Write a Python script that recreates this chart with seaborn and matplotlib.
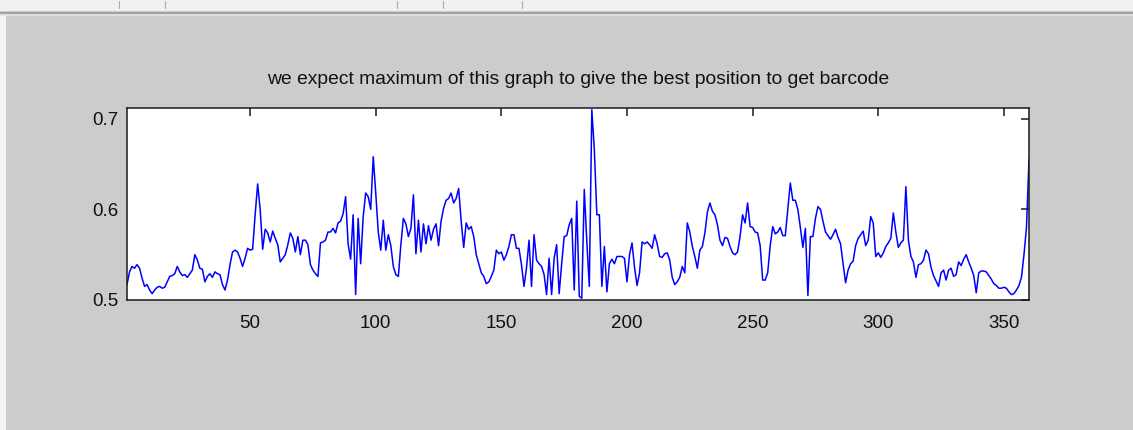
import numpy as np
import pandas as pd
import matplotlib
matplotlib.use("Agg")
import matplotlib.pyplot as plt
from matplotlib.patches import Rectangle
from matplotlib.lines import Line2D
import seaborn as sns

title_text = "we expect maximum of this graph to give the best position to get barcode"
x_ticks = [50, 100, 150, 200, 250, 300, 350]
y_ticks = [0.5, 0.6, 0.7]
y_tick_labels = ["0.5", "0.6", "0.7"]

values_001_060 = [0.517, 0.531, 0.537, 0.535, 0.539, 0.535, 0.524, 0.515, 0.517, 0.511,
                  0.507, 0.511, 0.514, 0.515, 0.513, 0.514, 0.520, 0.526, 0.527, 0.529,
                  0.537, 0.531, 0.527, 0.528, 0.525, 0.529, 0.533, 0.550, 0.544, 0.535,
                  0.534, 0.520, 0.526, 0.529, 0.525, 0.531, 0.529, 0.528, 0.517, 0.511,
                  0.522, 0.539, 0.553, 0.555, 0.553, 0.546, 0.537, 0.546, 0.557, 0.555,
                  0.556, 0.594, 0.628, 0.600, 0.556, 0.578, 0.574, 0.564, 0.576, 0.568]
values_061_120 = [0.561, 0.542, 0.546, 0.550, 0.561, 0.574, 0.568, 0.553, 0.570, 0.550,
                  0.566, 0.566, 0.561, 0.539, 0.533, 0.529, 0.526, 0.563, 0.564, 0.566,
                  0.575, 0.575, 0.579, 0.574, 0.585, 0.587, 0.595, 0.614, 0.562, 0.545,
                  0.594, 0.506, 0.590, 0.540, 0.592, 0.618, 0.614, 0.600, 0.658, 0.618,
                  0.575, 0.555, 0.588, 0.555, 0.572, 0.560, 0.537, 0.528, 0.526, 0.561,
                  0.590, 0.584, 0.570, 0.579, 0.616, 0.551, 0.588, 0.553, 0.584, 0.562]
values_121_180 = [0.582, 0.566, 0.578, 0.584, 0.560, 0.587, 0.601, 0.610, 0.612, 0.618,
                  0.607, 0.612, 0.623, 0.587, 0.558, 0.585, 0.578, 0.581, 0.570, 0.550,
                  0.540, 0.530, 0.526, 0.518, 0.520, 0.526, 0.533, 0.555, 0.551, 0.553,
                  0.544, 0.550, 0.559, 0.572, 0.572, 0.557, 0.557, 0.539, 0.515, 0.535,
                  0.566, 0.515, 0.572, 0.544, 0.540, 0.537, 0.528, 0.506, 0.546, 0.506,
                  0.546, 0.561, 0.507, 0.540, 0.570, 0.571, 0.583, 0.590, 0.511, 0.609]
values_181_240 = [0.504, 0.502, 0.622, 0.565, 0.515, 0.710, 0.666, 0.594, 0.594, 0.515,
                  0.559, 0.509, 0.540, 0.545, 0.540, 0.548, 0.548, 0.548, 0.546, 0.520,
                  0.550, 0.563, 0.536, 0.516, 0.530, 0.564, 0.562, 0.564, 0.561, 0.557,
                  0.572, 0.562, 0.548, 0.547, 0.551, 0.552, 0.544, 0.525, 0.517, 0.520,
                  0.525, 0.537, 0.530, 0.585, 0.575, 0.559, 0.548, 0.535, 0.555, 0.559,
                  0.574, 0.597, 0.607, 0.598, 0.594, 0.583, 0.566, 0.560, 0.569, 0.568]
values_241_300 = [0.559, 0.552, 0.550, 0.553, 0.570, 0.594, 0.585, 0.607, 0.581, 0.580,
                  0.575, 0.574, 0.560, 0.522, 0.522, 0.530, 0.560, 0.581, 0.573, 0.575,
                  0.580, 0.571, 0.571, 0.600, 0.629, 0.610, 0.610, 0.600, 0.580, 0.558,
                  0.579, 0.505, 0.570, 0.570, 0.590, 0.603, 0.600, 0.587, 0.575, 0.571,
                  0.567, 0.572, 0.578, 0.569, 0.562, 0.540, 0.519, 0.533, 0.540, 0.543,
                  0.560, 0.568, 0.572, 0.576, 0.560, 0.566, 0.592, 0.585, 0.548, 0.552]
values_301_360 = [0.547, 0.552, 0.559, 0.563, 0.568, 0.596, 0.575, 0.558, 0.563, 0.566,
                  0.625, 0.566, 0.548, 0.542, 0.525, 0.539, 0.540, 0.544, 0.555, 0.551,
                  0.536, 0.527, 0.521, 0.515, 0.530, 0.533, 0.522, 0.533, 0.535, 0.526,
                  0.528, 0.542, 0.538, 0.545, 0.550, 0.542, 0.535, 0.527, 0.508, 0.530,
                  0.532, 0.532, 0.531, 0.527, 0.523, 0.518, 0.516, 0.513, 0.513, 0.514,
                  0.513, 0.509, 0.506, 0.507, 0.511, 0.516, 0.525, 0.550, 0.580, 0.655]

values = (values_001_060 + values_061_120 + values_121_180 +
          values_181_240 + values_241_300 + values_301_360)
index = np.arange(1, len(values) + 1)
df = pd.DataFrame({"position": index, "score": values})

sns.set_style("white")
plt.rcParams["font.family"] = ["Liberation Sans Narrow", "Liberation Sans", "DejaVu Sans"]

W, H = 1133, 430
fig = plt.figure(figsize=(W / 100, H / 100), dpi=100)
fig.patch.set_facecolor("#cccccc")

# window chrome: toolbar strip and left edge
fig.patches.append(Rectangle((0, 1 - 11 / H), 1, 11 / H, transform=fig.transFigure,
                             facecolor="#f0f0f0", edgecolor="none", zorder=0))
fig.lines.append(Line2D([0, 1], [1 - 12.5 / H] * 2, transform=fig.transFigure,
                        color="#9a9a9a", lw=1.2))
fig.lines.append(Line2D([0, 1], [1 - 14.5 / H] * 2, transform=fig.transFigure,
                        color="#e4e4e4", lw=1.2))
for tx in [119, 165, 397, 443, 522]:
    fig.lines.append(Line2D([tx / W] * 2, [1 - 1 / H, 1 - 8 / H], transform=fig.transFigure,
                            color="#a8a8a8", lw=0.8))
fig.patches.append(Rectangle((0, 0), 6 / W, 1 - 15 / H, transform=fig.transFigure,
                             facecolor="#f4f4f4", edgecolor="none", zorder=0))

ax = fig.add_axes([127 / W, 130 / H, (1029 - 127) / W, (300 - 108) / H])
ax.set_facecolor("white")
sns.lineplot(data=df, x="position", y="score", ax=ax, color="#0000ff", lw=1.1)

ax.set_xlim(1, 360)
ax.set_ylim(0.5, 0.7118)
ax.set_xticks(x_ticks)
ax.set_xticklabels([str(t) for t in x_ticks])
ax.set_yticks(y_ticks)
ax.set_yticklabels(y_tick_labels)
ax.set_xlabel("")
ax.set_ylabel("")
ax.tick_params(axis="both", direction="in", length=6, width=1.1, color="#1a1a1a",
               top=True, right=True, labelsize=13.5, labelcolor="#111111")
ax.tick_params(axis="x", pad=11)
ax.tick_params(axis="y", pad=6)
for sp in ax.spines.values():
    sp.set_visible(True)
    sp.set_color("#1a1a1a")
    sp.set_linewidth(1.1)

ax.set_title(title_text, fontsize=13.9, color="#111111", pad=17)

fig.savefig("out.png", dpi=100, facecolor=fig.get_facecolor())
